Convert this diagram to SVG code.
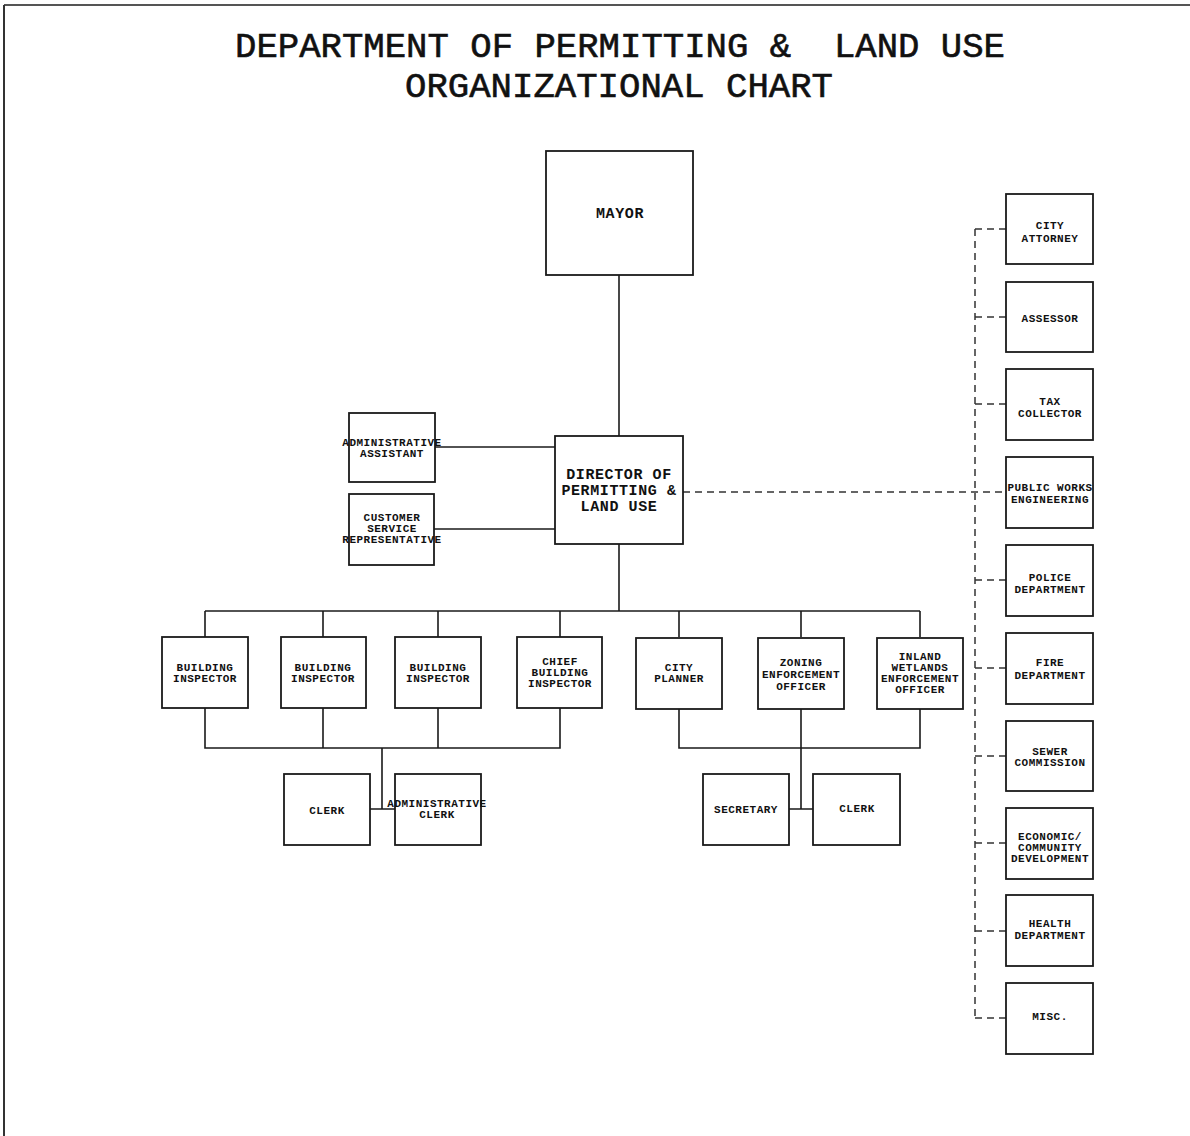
<svg xmlns="http://www.w3.org/2000/svg" width="1190" height="1136" viewBox="0 0 1190 1136">
<style>
.box{fill:#fff;stroke:#1a1a1a;stroke-width:1.8}
.ln{fill:none;stroke:#1a1a1a;stroke-width:1.6}
.dl{fill:none;stroke:#333;stroke-width:1.5;stroke-dasharray:7,5}
.t{font-family:"Liberation Mono","DejaVu Sans Mono",monospace;font-weight:bold;font-size:11px;letter-spacing:0.5px;fill:#111;text-anchor:middle}
.tb{font-family:"Liberation Mono","DejaVu Sans Mono",monospace;font-weight:bold;font-size:15px;letter-spacing:0.6px;fill:#111;text-anchor:middle}
.title{font-family:"Liberation Mono","DejaVu Sans Mono",monospace;font-size:35px;fill:#111;stroke:#111;stroke-width:0.6}
</style>
<rect width="1190" height="1136" fill="#fff"/>
<g id="frame">
<line x1="4" y1="5" x2="1190" y2="5" stroke="#555" stroke-width="2"/>
<line x1="4" y1="5" x2="4" y2="1136" stroke="#333" stroke-width="2"/>
</g>
<g id="title">
<text class="title" x="235" y="57" textLength="770" lengthAdjust="spacingAndGlyphs" xml:space="preserve">DEPARTMENT OF PERMITTING &amp;  LAND USE</text>
<text class="title" x="405" y="97" textLength="428" lengthAdjust="spacingAndGlyphs">ORGANIZATIONAL CHART</text>
</g>
<g id="connectors">
<line class="ln" x1="619" y1="275" x2="619" y2="436"/>
<line class="ln" x1="435" y1="447" x2="555" y2="447"/>
<line class="ln" x1="434" y1="529" x2="555" y2="529"/>
<line class="ln" x1="619" y1="544" x2="619" y2="611"/>
<line class="ln" x1="205" y1="611" x2="920" y2="611"/>
<path class="ln" d="M205 611V637M323 611V637M438 611V637M560 611V637M679 611V637M801 611V637M920 611V637"/>
<path class="ln" d="M205 708V748H560V708M323 708V748M438 708V748"/>
<path class="ln" d="M382 748V809M370 809H395"/>
<path class="ln" d="M679 709V748H920V709M801 709V809M789 809H813"/>
<line class="dl" x1="683" y1="492" x2="1006" y2="492"/>
<line class="dl" x1="975" y1="229" x2="975" y2="1018"/>
<path class="dl" d="M975 229H1006M975 317H1006M975 404H1006M975 580H1006M975 668H1006M975 756H1006M975 843H1006M975 931H1006M975 1018H1006"/>
</g>
<g id="mayor"><rect class="box" x="546" y="151" width="147" height="124"/><text class="tb" x="620" y="218">MAYOR</text></g>
<g id="director"><rect class="box" x="555" y="436" width="128" height="108"/>
<text class="tb" x="619" y="479">DIRECTOR OF</text><text class="tb" x="619" y="495">PERMITTING &amp;</text><text class="tb" x="619" y="511">LAND USE</text></g>
<g id="admin-assistant"><rect class="box" x="349" y="413" width="86" height="69"/>
<text class="t" x="392" y="446">ADMINISTRATIVE</text><text class="t" x="392" y="457">ASSISTANT</text></g>
<g id="customer-service"><rect class="box" x="349" y="494" width="85" height="71"/>
<text class="t" x="392" y="521">CUSTOMER</text><text class="t" x="392" y="532">SERVICE</text><text class="t" x="392" y="543">REPRESENTATIVE</text></g>
<g id="building-inspector-1"><rect class="box" x="162" y="637" width="86" height="71"/>
<text class="t" x="205" y="671">BUILDING</text><text class="t" x="205" y="682">INSPECTOR</text></g>
<g id="building-inspector-2"><rect class="box" x="281" y="637" width="85" height="71"/>
<text class="t" x="323" y="671">BUILDING</text><text class="t" x="323" y="682">INSPECTOR</text></g>
<g id="building-inspector-3"><rect class="box" x="395" y="637" width="86" height="71"/>
<text class="t" x="438" y="671">BUILDING</text><text class="t" x="438" y="682">INSPECTOR</text></g>
<g id="chief-building-inspector"><rect class="box" x="517" y="637" width="85" height="71"/>
<text class="t" x="560" y="665">CHIEF</text><text class="t" x="560" y="676">BUILDING</text><text class="t" x="560" y="687">INSPECTOR</text></g>
<g id="city-planner"><rect class="box" x="636" y="638" width="86" height="71"/>
<text class="t" x="679" y="671">CITY</text><text class="t" x="679" y="682">PLANNER</text></g>
<g id="zoning-officer"><rect class="box" x="758" y="638" width="86" height="71"/>
<text class="t" x="801" y="666">ZONING</text><text class="t" x="801" y="678">ENFORCEMENT</text><text class="t" x="801" y="690">OFFICER</text></g>
<g id="inland-wetlands-officer"><rect class="box" x="877" y="638" width="86" height="71"/>
<text class="t" x="920" y="660">INLAND</text><text class="t" x="920" y="671">WETLANDS</text><text class="t" x="920" y="682">ENFORCEMENT</text><text class="t" x="920" y="693">OFFICER</text></g>
<g id="clerk-1"><rect class="box" x="284" y="774" width="86" height="71"/><text class="t" x="327" y="814">CLERK</text></g>
<g id="administrative-clerk"><rect class="box" x="395" y="774" width="86" height="71"/>
<text class="t" x="437" y="807">ADMINISTRATIVE</text><text class="t" x="437" y="818">CLERK</text></g>
<g id="secretary"><rect class="box" x="703" y="774" width="86" height="71"/><text class="t" x="746" y="813">SECRETARY</text></g>
<g id="clerk-2"><rect class="box" x="813" y="774" width="87" height="71"/><text class="t" x="857" y="812">CLERK</text></g>
<g id="city-attorney"><rect class="box" x="1006" y="194" width="87" height="70"/>
<text class="t" x="1050" y="229">CITY</text><text class="t" x="1050" y="242">ATTORNEY</text></g>
<g id="assessor"><rect class="box" x="1006" y="282" width="87" height="70"/><text class="t" x="1050" y="322">ASSESSOR</text></g>
<g id="tax-collector"><rect class="box" x="1006" y="369" width="87" height="71"/>
<text class="t" x="1050" y="405">TAX</text><text class="t" x="1050" y="417">COLLECTOR</text></g>
<g id="public-works"><rect class="box" x="1006" y="457" width="87" height="71"/>
<text class="t" x="1050" y="491">PUBLIC WORKS</text><text class="t" x="1050" y="503">ENGINEERING</text></g>
<g id="police"><rect class="box" x="1006" y="545" width="87" height="71"/>
<text class="t" x="1050" y="581">POLICE</text><text class="t" x="1050" y="593">DEPARTMENT</text></g>
<g id="fire"><rect class="box" x="1006" y="633" width="87" height="71"/>
<text class="t" x="1050" y="666">FIRE</text><text class="t" x="1050" y="679">DEPARTMENT</text></g>
<g id="sewer"><rect class="box" x="1006" y="721" width="87" height="70"/>
<text class="t" x="1050" y="755">SEWER</text><text class="t" x="1050" y="766">COMMISSION</text></g>
<g id="economic"><rect class="box" x="1006" y="808" width="87" height="71"/>
<text class="t" x="1050" y="840">ECONOMIC/</text><text class="t" x="1050" y="851">COMMUNITY</text><text class="t" x="1050" y="862">DEVELOPMENT</text></g>
<g id="health"><rect class="box" x="1006" y="895" width="87" height="71"/>
<text class="t" x="1050" y="927">HEALTH</text><text class="t" x="1050" y="939">DEPARTMENT</text></g>
<g id="misc"><rect class="box" x="1006" y="983" width="87" height="71"/><text class="t" x="1050" y="1020">MISC.</text></g>
</svg>
